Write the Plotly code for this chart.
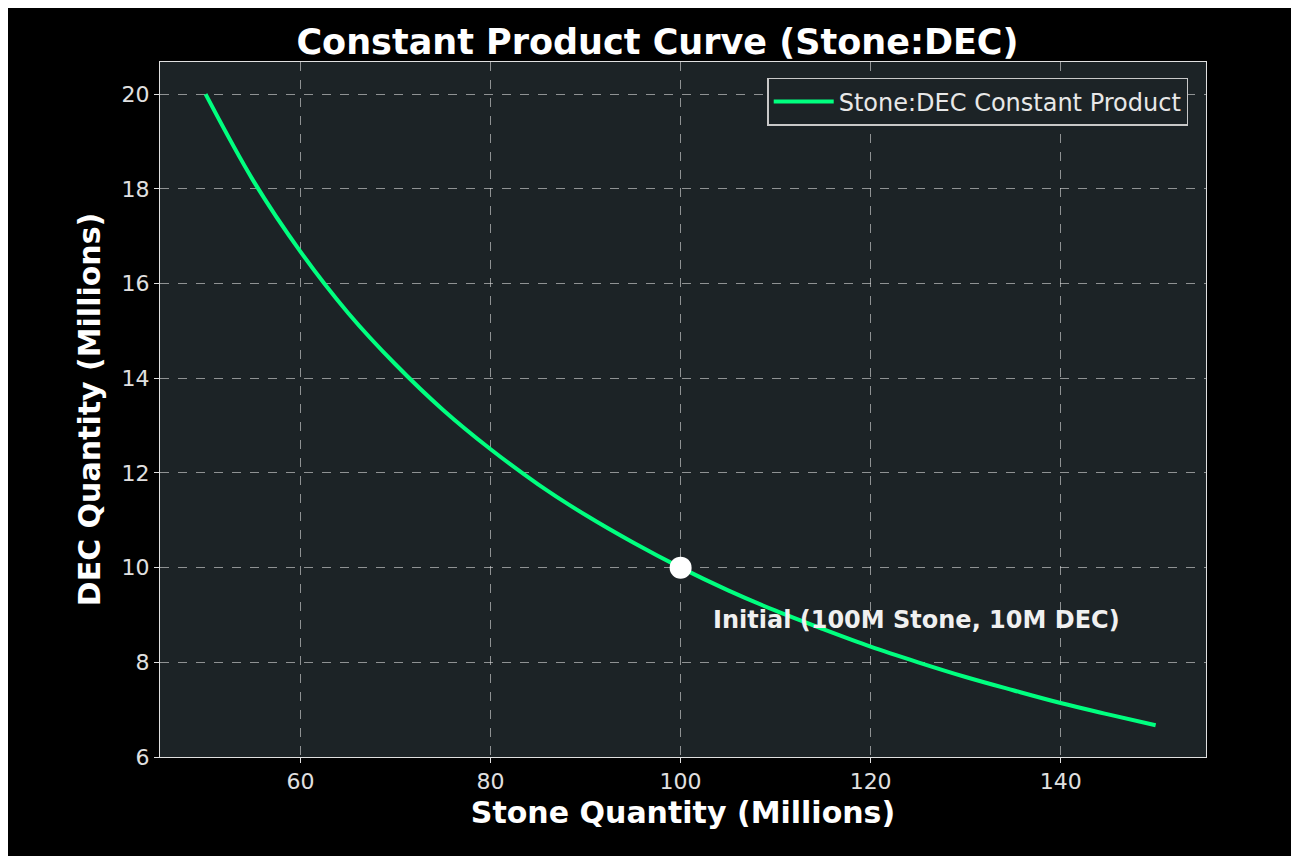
import plotly.graph_objects as go

# values (millions)
stone = [50, 55, 60, 65, 70, 75, 80, 85, 90, 95, 100, 105, 110, 115, 120, 125, 130, 135, 140, 145, 150]
dec = [20.0, 18.18, 16.67, 15.38, 14.29, 13.33, 12.5, 11.76, 11.11, 10.53, 10.0,
       9.52, 9.09, 8.70, 8.33, 8.0, 7.69, 7.41, 7.14, 6.90, 6.67]
init_stone = [100]
init_dec = [10]
note = "Initial (100M Stone, 10M DEC)"

font = "DejaVu Sans"
fig = go.Figure()
fig.add_trace(go.Scatter(x=stone, y=dec, mode="lines", line=dict(color="#00ff7f", width=4, shape="spline"),
                         name="Stone:DEC Constant Product"))
fig.add_trace(go.Scatter(x=init_stone, y=init_dec, mode="markers", marker=dict(color="white", size=22),
                         showlegend=False))
fig.add_annotation(x=103.2, y=8.89, text="<b>" + note + "</b>", showarrow=False, xanchor="left",
                   font=dict(color="#f0f0f0", size=24, family=font))

axis = dict(showline=True, linecolor="#e0e0e0", mirror=True, ticks="outside", tickcolor="#e0e0e0",
            gridcolor="rgba(220,220,220,0.6)", griddash="dash", zeroline=False,
            tickfont=dict(color="#e0e0e0", size=22, family=font))
fig.update_layout(
    width=1299, height=856, paper_bgcolor="black", plot_bgcolor="#1c2326",
    margin=dict(l=152, r=101, t=54, b=107),
    title=dict(text="<b>Constant Product Curve (Stone:DEC)</b>", x=0.5, y=0.975, xanchor="center",
               font=dict(color="white", size=35, family=font)),
    xaxis=dict(axis, range=[45.2, 155.3], tickvals=[60, 80, 100, 120, 140],
               title=dict(text="<b>Stone Quantity (Millions)</b>", standoff=8,
                          font=dict(color="white", size=30, family=font))),
    yaxis=dict(axis, range=[6, 20.68], tickvals=[6, 8, 10, 12, 14, 16, 18, 20],
               title=dict(text="<b>DEC Quantity (Millions)</b>", standoff=12,
                          font=dict(color="white", size=30, family=font))),
    legend=dict(x=0.983, y=0.977, xanchor="right", yanchor="top", bgcolor="#1c2326",
                bordercolor="#c8c8c8", borderwidth=1.5, itemwidth=60,
                font=dict(color="#e8e8e8", size=24, family=font)),
)
fig.write_html("out.html")
